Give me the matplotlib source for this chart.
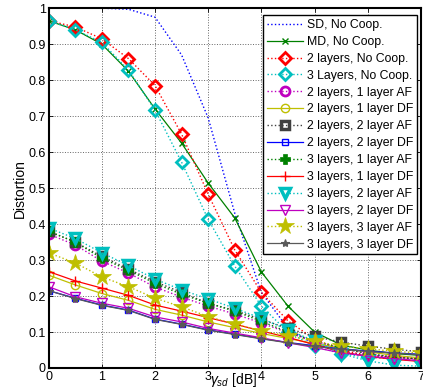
import matplotlib
matplotlib.use("Agg")
import matplotlib.pyplot as plt
import numpy as np

plt.rcParams['font.family'] = ['Liberation Sans', 'DejaVu Sans']
plt.rcParams['mathtext.fontset'] = 'custom'
plt.rcParams['mathtext.rm'] = 'Liberation Sans'
plt.rcParams['mathtext.it'] = 'Liberation Sans:italic'

snr = [0, 0.5, 1, 1.5, 2, 2.5, 3, 3.5, 4, 4.5, 5, 5.5, 6, 6.5, 7]

sd_nocoop = [1.0, 1.0, 1.0, 0.997, 0.975, 0.87, 0.695, 0.43, 0.21, 0.11, 0.065, 0.045, 0.035, 0.03, 0.025]
md_nocoop = [0.965, 0.94, 0.90, 0.825, 0.72, 0.625, 0.514, 0.417, 0.267, 0.172, 0.10, 0.064, 0.05, 0.04, 0.035]
l2_nocoop = [0.965, 0.948, 0.915, 0.86, 0.785, 0.65, 0.483, 0.328, 0.21, 0.131, 0.08, 0.05, 0.035, 0.03, 0.025]
l3_nocoop = [0.965, 0.94, 0.905, 0.828, 0.717, 0.572, 0.413, 0.283, 0.172, 0.10, 0.06, 0.04, 0.03, 0.025, 0.02]
l2_1af = [0.372, 0.342, 0.297, 0.264, 0.225, 0.197, 0.172, 0.150, 0.125, 0.098, 0.075, 0.055, 0.040, 0.030, 0.025]
l2_1df = [0.258, 0.231, 0.207, 0.188, 0.163, 0.147, 0.128, 0.112, 0.096, 0.082, 0.068, 0.055, 0.045, 0.035, 0.028]
l2_2af = [0.38, 0.35, 0.31, 0.275, 0.24, 0.21, 0.18, 0.16, 0.135, 0.11, 0.088, 0.072, 0.061, 0.052, 0.045]
l2_2df = [0.215, 0.194, 0.175, 0.161, 0.136, 0.122, 0.106, 0.094, 0.082, 0.071, 0.062, 0.053, 0.047, 0.042, 0.038]
l3_1af = [0.38, 0.35, 0.305, 0.272, 0.235, 0.205, 0.18, 0.158, 0.13, 0.10, 0.075, 0.055, 0.04, 0.03, 0.025]
l3_1df = [0.268, 0.242, 0.222, 0.202, 0.175, 0.158, 0.14, 0.122, 0.103, 0.085, 0.065, 0.045, 0.032, 0.024, 0.018]
l3_2af = [0.389, 0.36, 0.32, 0.285, 0.247, 0.217, 0.192, 0.166, 0.138, 0.106, 0.075, 0.04, 0.02, 0.008, 0.005]
l3_2df = [0.226, 0.198, 0.18, 0.166, 0.142, 0.128, 0.11, 0.097, 0.084, 0.07, 0.057, 0.042, 0.033, 0.026, 0.02]
l3_3af = [0.32, 0.292, 0.253, 0.226, 0.194, 0.17, 0.143, 0.122, 0.103, 0.089, 0.075, 0.06, 0.054, 0.046, 0.042]
l3_3df = [0.215, 0.193, 0.174, 0.16, 0.135, 0.121, 0.105, 0.093, 0.081, 0.07, 0.06, 0.052, 0.046, 0.041, 0.037]

labels = ["SD, No Coop.", "MD, No Coop.", "2 layers, No Coop.", "3 Layers, No Coop.",
          "2 layers, 1 layer AF", "2 layers, 1 layer DF", "2 layers, 2 layer AF",
          "2 layers, 2 layer DF", "3 layers, 1 layer AF", "3 layers, 1 layer DF",
          "3 layers, 2 layer AF", "3 layers, 2 layer DF", "3 layers, 3 layer AF",
          "3 layers, 3 layer DF"]
xticks = [0, 1, 2, 3, 4, 5, 6, 7]
yticks = [0, 0.1, 0.2, 0.3, 0.4, 0.5, 0.6, 0.7, 0.8, 0.9, 1]
yticklabels = ["0", "0.1", "0.2", "0.3", "0.4", "0.5", "0.6", "0.7", "0.8", "0.9", "1"]

B = (0, 0, 1); G = (0, 0.5, 0); R = (1, 0, 0); C = (0, 0.75, 0.75)
M = (0.75, 0, 0.75); Y = (0.75, 0.75, 0); K = (0.25, 0.25, 0.25); K2 = (0.35, 0.35, 0.35)

series = [
    (sd_nocoop, dict(color=B, ls=':', lw=1.0, marker=None)),
    (md_nocoop, dict(color=G, ls='-', lw=0.9, marker='x', ms=4, mew=1)),
    (l2_nocoop, dict(color=R, ls=':', lw=1.0, marker='D', ms=6, mew=2, mfc='none')),
    (l3_nocoop, dict(color=C, ls=':', lw=1.0, marker='D', ms=6, mew=2, mfc='none')),
    (l2_1af, dict(color=M, ls=':', lw=1.0, marker='o', ms=6.5, mew=2, mfc='none')),
    (l2_1df, dict(color=Y, ls='-', lw=0.9, marker='o', ms=6, mew=1, mfc='none')),
    (l2_2af, dict(color=K, ls=':', lw=1.0, marker='s', ms=6, mew=2.5, mfc='none')),
    (l2_2df, dict(color=B, ls='-', lw=0.9, marker='s', ms=5, mew=1, mfc='none')),
    (l3_1af, dict(color=G, ls=':', lw=1.0, marker='P', ms=7, mew=0.5)),
    (l3_1df, dict(color=R, ls='-', lw=0.9, marker='+', ms=7, mew=1)),
    (l3_2af, dict(color=C, ls=':', lw=1.0, marker='v', ms=7.5, mew=2.5, mfc='none')),
    (l3_2df, dict(color=M, ls='-', lw=0.9, marker='v', ms=6.5, mew=1, mfc='none')),
    (l3_3af, dict(color=Y, ls=':', lw=1.0, marker='*', ms=13, mew=0.5)),
    (l3_3df, dict(color=K2, ls='-', lw=0.9, marker='*', ms=6, mew=0.8)),
]

fig = plt.figure(figsize=(4.23, 3.89), dpi=100)
ax = fig.add_axes([0.115, 0.054, 0.880, 0.925])

for (vals, st), lab in zip(series, labels):
    ax.plot(snr, vals, label=lab, **st)

ax.set_xlim(0, 7)
ax.set_ylim(0, 1)
ax.set_xticks(xticks)
ax.set_xticklabels([str(t) for t in xticks])
ax.set_yticks(yticks)
ax.set_yticklabels(yticklabels)
ax.tick_params(direction='in', length=3, top=True, right=True, labelsize=9, pad=2, width=0.6)
ax.grid(True, ls=':', color=(0.4, 0.4, 0.4), lw=0.7)
for s in ax.spines.values():
    s.set_linewidth(1.5)

ax.set_ylabel("Distortion", fontsize=10, labelpad=1)
fig.text(234 / 423, 1 - 380 / 389, r"$\gamma_{sd}$ [dB]", fontsize=10, ha='center', va='center')

leg = ax.legend(loc='upper right', bbox_to_anchor=(0.99, 0.98), fontsize=8.8, numpoints=1,
                handlelength=3.0, handletextpad=0.3, labelspacing=0.40, borderpad=0.3,
                fancybox=False, framealpha=1, edgecolor='black', borderaxespad=0)
leg.get_frame().set_linewidth(1.0)

fig.savefig("out.png", dpi=100)
